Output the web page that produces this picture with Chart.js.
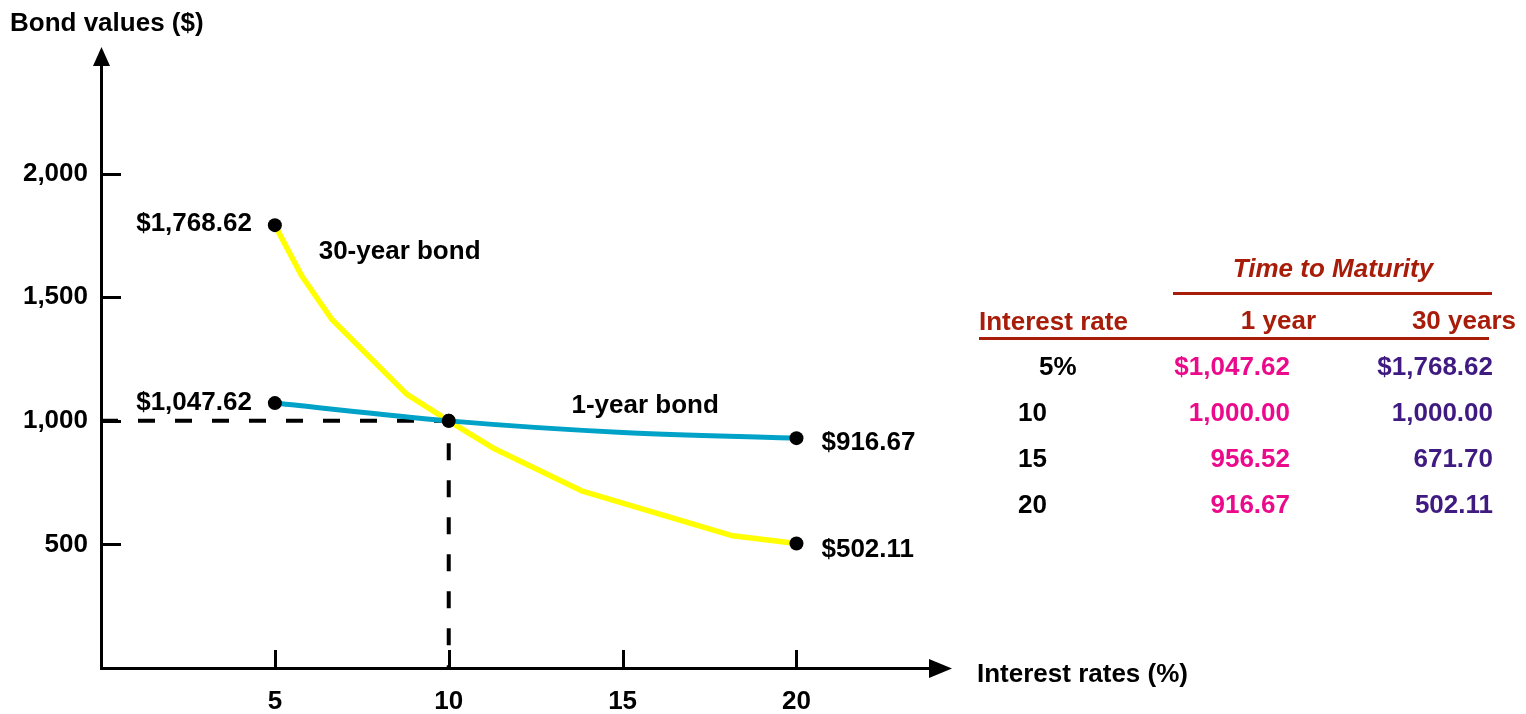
<!DOCTYPE html>
<html>
<head>
<meta charset="utf-8">
<script src="https://cdn.jsdelivr.net/npm/chart.js@4.4.1/dist/chart.umd.min.js"></script>
<style>
  html, body { margin: 0; padding: 0; background: #fff; }
  canvas { display: block; }
</style>
</head>
<body>
<canvas id="bonds" width="1526" height="714"></canvas>
<script>
"use strict";

// values
var rateTicks = [5, 10, 15, 20];
var valueTicks = [500, 1000, 1500, 2000];

var oneYearRates = [5, 10, 15, 20];
var oneYearValues = [1072, 1000, 953, 930];

var thirtyYearRates = [5, 5.77, 6.63, 8.79, 10, 11.33, 13.82, 18.17, 20];
var thirtyYearValues = [1792, 1587, 1412, 1108, 1000, 886, 717, 535, 504];

var markedRates = [5, 10, 20];
var parRate = 10;
var parValue = 1000;

var oneYearEndLabels = ['$1,047.62', '$916.67'];
var thirtyYearEndLabels = ['$1,768.62', '$502.11'];

var tableRates = ['5%', '10', '15', '20'];
var tableOneYear = ['$1,047.62', '1,000.00', '956.52', '916.67'];
var tableThirtyYear = ['$1,768.62', '1,000.00', '671.70', '502.11'];

var FAMILY = '"Liberation Sans", Arial, Helvetica, sans-serif';
var RED = '#a81c0a';
var PINK = '#ec0a8c';
var PURPLE = '#3f1a80';

function boldFont(size, italic) {
  return (italic ? 'italic ' : '') + 'bold ' + size + 'px ' + FAMILY;
}

function toPoints(xs, ys) {
  return xs.map(function (x, i) { return { x: x, y: ys[i] }; });
}

function dotRadius(ctx) {
  return markedRates.indexOf(ctx.raw.x) >= 0 ? 7 : 0;
}

var decor = {
  id: 'decor',
  beforeDatasetsDraw: function (chart) {
    var ctx = chart.ctx, a = chart.chartArea, xs = chart.scales.x, ys = chart.scales.y;
    ctx.save();
    ctx.strokeStyle = '#000';
    ctx.lineWidth = 3;
    rateTicks.forEach(function (r) {
      var px = Math.round(xs.getPixelForValue(r)) + 0.5;
      ctx.beginPath();
      ctx.moveTo(px, a.bottom);
      ctx.lineTo(px, a.bottom - 18);
      ctx.stroke();
    });
    valueTicks.forEach(function (v) {
      var py = Math.round(ys.getPixelForValue(v)) + 0.5;
      ctx.beginPath();
      ctx.moveTo(a.left, py);
      ctx.lineTo(a.left + 20, py);
      ctx.stroke();
    });
    ctx.restore();
  },
  afterDatasetsDraw: function (chart) {
    var ctx = chart.ctx, xs = chart.scales.x, ys = chart.scales.y;
    var n1 = oneYearValues.length - 1, n30 = thirtyYearValues.length - 1;
    ctx.save();
    ctx.fillStyle = '#000';
    ctx.font = boldFont(26);
    ctx.textBaseline = 'alphabetic';

    ctx.textAlign = 'right';
    ctx.fillText(thirtyYearEndLabels[0], xs.getPixelForValue(thirtyYearRates[0]) - 23, ys.getPixelForValue(thirtyYearValues[0]) + 6);
    ctx.fillText(oneYearEndLabels[0], xs.getPixelForValue(oneYearRates[0]) - 23, ys.getPixelForValue(oneYearValues[0]) + 7);

    ctx.textAlign = 'left';
    ctx.fillText(oneYearEndLabels[1], xs.getPixelForValue(oneYearRates[n1]) + 25, ys.getPixelForValue(oneYearValues[n1]) + 12);
    ctx.fillText(thirtyYearEndLabels[1], xs.getPixelForValue(thirtyYearRates[n30]) + 25, ys.getPixelForValue(thirtyYearValues[n30]) + 14);

    ctx.fillText('30-year bond', xs.getPixelForValue(6.26), ys.getPixelForValue(1655));
    ctx.fillText('1-year bond', xs.getPixelForValue(13.53), ys.getPixelForValue(1032));
    ctx.restore();
  },
  afterDraw: function (chart) {
    var ctx = chart.ctx, a = chart.chartArea;
    ctx.save();
    // arrow heads
    ctx.fillStyle = '#000';
    ctx.beginPath();
    ctx.moveTo(a.right + 22, a.bottom + 0.5);
    ctx.lineTo(a.right - 1, a.bottom - 9);
    ctx.lineTo(a.right - 1, a.bottom + 10);
    ctx.closePath();
    ctx.fill();
    ctx.beginPath();
    ctx.moveTo(a.left + 0.5, a.top - 18);
    ctx.lineTo(a.left - 8, a.top + 1);
    ctx.lineTo(a.left + 9, a.top + 1);
    ctx.closePath();
    ctx.fill();

    // axis titles
    ctx.font = boldFont(26);
    ctx.textAlign = 'left';
    ctx.fillText('Bond values ($)', 10, 31);
    ctx.fillText('Interest rates (%)', 977, 682);

    // table
    ctx.fillStyle = RED;
    ctx.strokeStyle = RED;
    ctx.lineWidth = 3;
    ctx.font = boldFont(26, true);
    ctx.textAlign = 'center';
    ctx.fillText('Time to Maturity', 1333, 277);
    ctx.beginPath();
    ctx.moveTo(1173, 293.5);
    ctx.lineTo(1492, 293.5);
    ctx.stroke();

    ctx.font = boldFont(26);
    ctx.textAlign = 'left';
    ctx.fillText('Interest rate', 979, 330);
    ctx.textAlign = 'right';
    ctx.fillText('1 year', 1316, 329);
    ctx.fillText('30 years', 1516, 329);
    ctx.beginPath();
    ctx.moveTo(979, 338.5);
    ctx.lineTo(1489, 338.5);
    ctx.stroke();

    tableRates.forEach(function (r, i) {
      var y = 375 + i * 46;
      ctx.textAlign = 'left';
      ctx.fillStyle = '#000';
      ctx.fillText(r, r.indexOf('%') >= 0 ? 1039 : 1018, y);
      ctx.textAlign = 'right';
      ctx.fillStyle = PINK;
      ctx.fillText(tableOneYear[i], 1290, y);
      ctx.fillStyle = PURPLE;
      ctx.fillText(tableThirtyYear[i], 1493, y);
    });
    ctx.restore();
  }
};

var chart = new Chart(document.getElementById('bonds'), {
  type: 'line',
  data: {
    datasets: [{
      label: '1-year bond',
      data: toPoints(oneYearRates, oneYearValues),
      borderColor: '#00a2c7',
      borderWidth: 5,
      cubicInterpolationMode: 'monotone',
      pointRadius: dotRadius,
      pointBackgroundColor: '#000',
      pointBorderWidth: 0,
      order: 1
    }, {
      label: '30-year bond',
      data: toPoints(thirtyYearRates, thirtyYearValues),
      borderColor: '#ffff00',
      borderWidth: 5.5,
      borderJoinStyle: 'round',
      tension: 0,
      pointRadius: dotRadius,
      pointBackgroundColor: '#000',
      pointBorderWidth: 0,
      order: 2
    }, {
      label: 'par',
      data: [{ x: 0, y: parValue }, { x: parRate, y: parValue }, { x: parRate, y: 0 }],
      borderColor: '#000',
      borderWidth: 4,
      borderDash: [17, 20],
      pointRadius: 0,
      clip: false,
      order: 3
    }]
  },
  options: {
    responsive: false,
    animation: false,
    devicePixelRatio: 1,
    layout: { padding: { top: 65, right: 596, left: 0, bottom: 0 } },
    plugins: {
      legend: { display: false },
      tooltip: { enabled: false }
    },
    scales: {
      x: {
        type: 'linear',
        min: 0,
        max: 23.84,
        grid: { display: false, drawTicks: false },
        border: { display: true, color: '#000', width: 3 },
        afterBuildTicks: function (s) { s.ticks = rateTicks.map(function (v) { return { value: v }; }); },
        afterFit: function (s) { s.height = 46; },
        ticks: {
          color: '#000',
          font: { family: FAMILY, size: 26, weight: 'bold' },
          padding: 18,
          maxRotation: 0,
          autoSkip: false
        }
      },
      y: {
        type: 'linear',
        min: 0,
        max: 2440,
        grid: { display: false, drawTicks: false },
        border: { display: true, color: '#000', width: 3 },
        afterBuildTicks: function (s) { s.ticks = valueTicks.map(function (v) { return { value: v }; }); },
        afterFit: function (s) { s.width = 101; },
        ticks: {
          color: '#000',
          font: { family: FAMILY, size: 26, weight: 'bold' },
          padding: 13,
          callback: function (v) { return v.toLocaleString('en-US'); }
        }
      }
    }
  },
  plugins: [decor]
});
</script>
</body>
</html>
